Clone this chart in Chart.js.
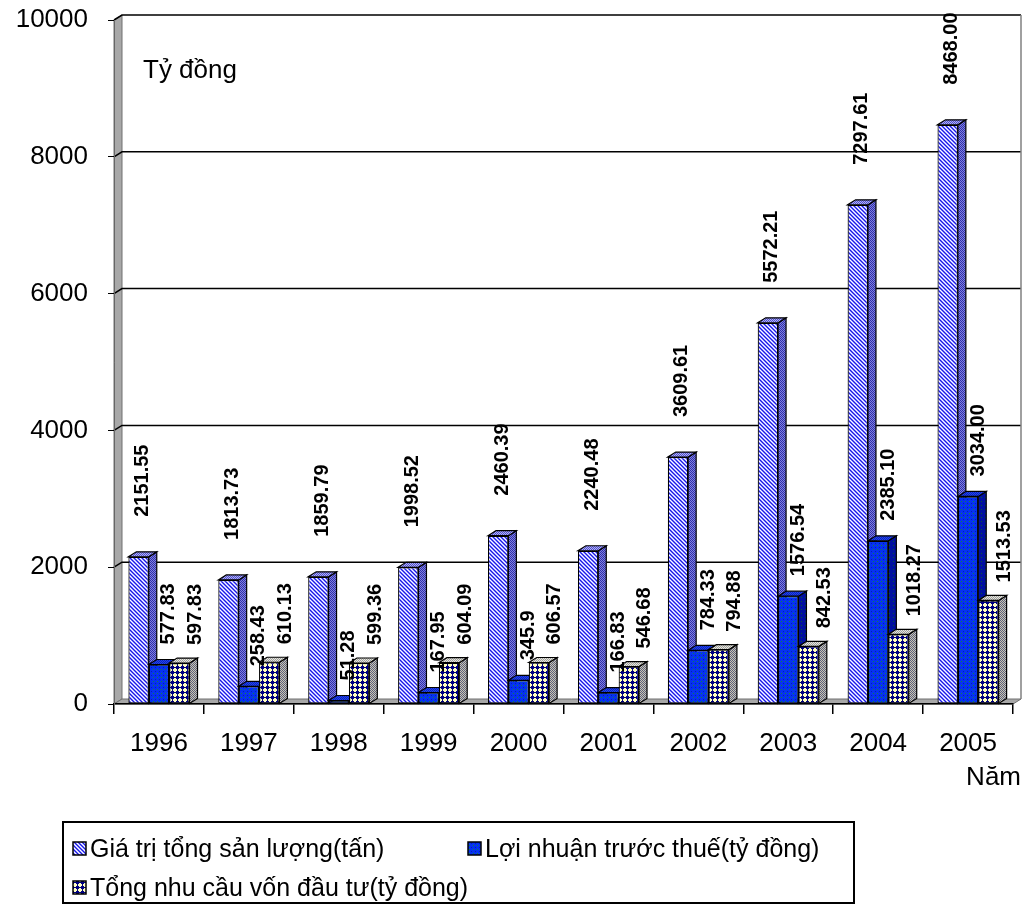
<!DOCTYPE html>
<html>
<head>
<meta charset="utf-8">
<script src="https://cdn.jsdelivr.net/npm/chart.js@4.4.1/dist/chart.umd.min.js"></script>
<style>
  html, body { margin: 0; padding: 0; background: #fff; }
  canvas { display: block; }
</style>
</head>
<body>
<canvas id="chart" width="1031" height="906"></canvas>
<script>
const years = ['1996', '1997', '1998', '1999', '2000', '2001', '2002', '2003', '2004', '2005'];

// values as printed above each bar
const giaTri   = ['2151.55', '1813.73', '1859.79', '1998.52', '2460.39', '2240.48', '3609.61', '5572.21', '7297.61', '8468.00'];
const loiNhuan = ['577.83', '258.43', '51.28', '167.95', '345.9', '166.83', '784.33', '1576.54', '2385.10', '3034.00'];
const vonDauTu = ['597.83', '610.13', '599.36', '604.09', '606.57', '546.68', '794.88', '842.53', '1018.27', '1513.53'];

const seriesNames = ['Giá trị tổng sản lượng(tấn)', 'Lợi nhuận trước thuế(tỷ đồng)', 'Tổng nhu cầu vốn đầu tư(tỷ đồng)'];
const yTicks = [0, 2000, 4000, 6000, 8000, 10000];

const FONT = 'Arial, "Liberation Sans", sans-serif';
const DX = 8, DY = -5; // depth of the 3d boxes

const canvas = document.getElementById('chart');
const ctx = canvas.getContext('2d');

function makePattern(size, paint) {
    const c = document.createElement('canvas');
    c.width = c.height = size;
    const g = c.getContext('2d');
    const px = (x, y, col) => { g.fillStyle = col; g.fillRect(x, y, 1, 1); };
    paint(g, px, size);
    return ctx.createPattern(c, 'repeat');
}

function checker(a, b) {
    return makePattern(2, (g, px) => { px(0, 0, a); px(1, 1, a); px(1, 0, b); px(0, 1, b); });
}

// front / side / top fills for each series
const fills = [
    {
        front: makePattern(4, (g, px) => {
            for (let y = 0; y < 4; y++) for (let x = 0; x < 4; x++) {
                const k = (x - y + 4) % 4;
                px(x, y, k === 0 ? '#1a1ae0' : k === 2 ? '#ffffff' : '#8888ff');
            }
        }),
        side: checker('#3030a8', '#8080e0'),
        top: checker('#5050c8', '#b0b0f8')
    },
    {
        front: makePattern(4, (g, px) => {
            g.fillStyle = '#0632f0'; g.fillRect(0, 0, 4, 4);
            px(1, 1, '#138a3c'); px(3, 3, '#0020b8');
        }),
        side: makePattern(4, (g, px) => {
            g.fillStyle = '#0010a0'; g.fillRect(0, 0, 4, 4);
            px(1, 1, '#0c5a30');
        }),
        top: checker('#0520c8', '#2a48e0')
    },
    {
        front: makePattern(5, (g, px) => {
            for (let y = 0; y < 5; y++) for (let x = 0; x < 5; x++) {
                px(x, y, Math.abs(x - 2) + Math.abs(y - 2) <= 2 ? '#000080' : '#ffffc0');
            }
        }),
        side: checker('#5e5e80', '#c8c8b0'),
        top: checker('#9a9aa8', '#ececd4')
    }
];

const labelText = [giaTri, loiNhuan, vonDauTu];
const labelGap = [40, 20, 18];
const labelShift = [4, 10, 16];

function poly(c, pts, fill) {
    c.beginPath();
    c.moveTo(pts[0][0], pts[0][1]);
    for (let i = 1; i < pts.length; i++) c.lineTo(pts[i][0], pts[i][1]);
    c.closePath();
    c.fillStyle = fill;
    c.fill();
    c.stroke();
}

// side wall, floor and the gridlines on the back wall
const walls = {
    id: 'walls',
    beforeDraw(chart) {
        const c = chart.ctx;
        const {left, right, top, bottom} = chart.chartArea;
        const y = chart.scales.y;
        c.save();
        c.strokeStyle = '#707070';
        c.lineWidth = 1;
        poly(c, [[left, top], [left + DX, top + DY], [left + DX, bottom + DY], [left, bottom]], '#a8a8a8');
        poly(c, [[left, bottom], [left + DX, bottom + DY], [right + DX, bottom + DY], [right, bottom]], '#a8a8a8');

        c.strokeStyle = '#000';
        c.lineWidth = 1.5;
        yTicks.forEach(v => {
            if (v === 0) return;
            const py = y.getPixelForValue(v);
            c.beginPath();
            c.moveTo(left, py);
            c.lineTo(left + DX, py + DY);
            c.lineTo(right + DX, py + DY);
            c.stroke();
        });
        c.strokeStyle = '#808080';
        c.beginPath();
        c.moveTo(right + DX, top + DY);
        c.lineTo(right + DX, bottom + DY);
        c.stroke();
        c.restore();
    }
};

// bars drawn as boxes, series by series from left to right, then the value labels
const bars3d = {
    id: 'bars3d',
    beforeDatasetDraw() { return false; },
    afterDatasetsDraw(chart) {
        const c = chart.ctx;
        c.save();
        c.strokeStyle = '#000';
        c.lineWidth = 1.2;
        chart.data.datasets.forEach((ds, i) => {
            chart.getDatasetMeta(i).data.forEach(bar => {
                const {x, y, width, base} = bar.getProps(['x', 'y', 'width', 'base'], true);
                const l = x - width / 2, r = x + width / 2;
                poly(c, [[r, y], [r + DX, y + DY], [r + DX, base + DY], [r, base]], fills[i].side);
                poly(c, [[l, y], [l + DX, y + DY], [r + DX, y + DY], [r, y]], fills[i].top);
                bar.draw(c);
            });
        });

        c.fillStyle = '#000';
        c.font = 'bold 20px ' + FONT;
        c.textAlign = 'left';
        c.textBaseline = 'middle';
        chart.data.datasets.forEach((ds, i) => {
            chart.getDatasetMeta(i).data.forEach((bar, j) => {
                c.save();
                c.translate(bar.x + labelShift[i], bar.y - labelGap[i]);
                c.rotate(-Math.PI / 2);
                c.fillText(labelText[i][j], 0, 0);
                c.restore();
            });
        });
        c.restore();
    }
};

// unit captions and the boxed legend
const captions = {
    id: 'captions',
    afterDraw(chart) {
        const c = chart.ctx;
        c.save();
        c.fillStyle = '#000';
        c.font = '26px ' + FONT;
        c.textBaseline = 'alphabetic';
        c.textAlign = 'left';
        c.fillText('Tỷ đồng', 143, 78);
        c.textAlign = 'right';
        c.fillText('Năm', 1021, 785);

        c.strokeStyle = '#000';
        c.lineWidth = 2;
        c.strokeRect(63, 822, 791, 81);

        const items = [[73, 857], [468, 857], [73, 896]];
        c.textAlign = 'left';
        c.font = '25px ' + FONT;
        chart.data.datasets.forEach((ds, i) => {
            const [sx, base] = items[i];
            c.fillStyle = fills[i].front;
            c.fillRect(sx, base - 15, 13, 13);
            c.lineWidth = 1.5;
            c.strokeRect(sx, base - 15, 13, 13);
            c.fillStyle = '#000';
            c.fillText(ds.label, sx + 17, base);
        });
        c.restore();
    }
};

const datasets = [giaTri, loiNhuan, vonDauTu].map((vals, i) => ({
    label: seriesNames[i],
    data: vals.map(Number),
    backgroundColor: fills[i].front,
    borderColor: '#000',
    borderWidth: 1.2,
    borderSkipped: false,
    categoryPercentage: 0.68,
    barPercentage: 1.0
}));

new Chart(ctx, {
    type: 'bar',
    data: { labels: years, datasets: datasets },
    options: {
        responsive: false,
        animation: false,
        devicePixelRatio: 1,
        layout: { padding: { left: 5, right: 18, top: 20, bottom: 140 } },
        plugins: {
            legend: { display: false },
            tooltip: { enabled: false }
        },
        scales: {
            x: {
                grid: { drawOnChartArea: false, tickLength: 10, color: '#000', lineWidth: 1.5 },
                border: { display: true, color: '#000', width: 1.5 },
                ticks: { color: '#000', font: { family: FONT, size: 26 }, padding: 14 },
                afterFit: s => { s.height = 62; }
            },
            y: {
                min: 0,
                max: 10000,
                afterBuildTicks: s => { s.ticks = yTicks.map(v => ({ value: v })); },
                ticks: { color: '#000', font: { family: FONT, size: 26 }, padding: 20, callback: v => String(v) },
                grid: { drawOnChartArea: false, tickLength: 6, color: '#000' },
                border: { display: true, color: '#666', width: 1 },
                afterFit: s => {
                    s.width = 109;
                    s.paddingTop = 0;
                    s.paddingBottom = 0;
                }
            }
        }
    },
    plugins: [walls, bars3d, captions]
});
</script>
</body>
</html>
